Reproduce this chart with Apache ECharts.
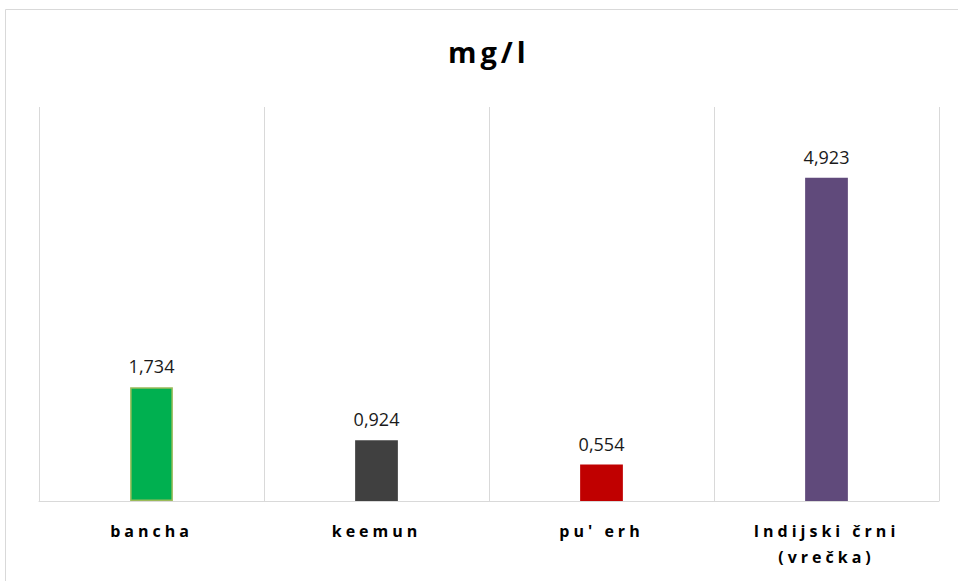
<!DOCTYPE html>
<html>
<head>
<meta charset="utf-8">
<script src="https://cdn.jsdelivr.net/npm/echarts@6/dist/echarts.min.js"></script>
<style>
  html, body { margin: 0; padding: 0; background: #fff; }
  #chart { width: 958px; height: 581px; }
  /* spaced lettering like the original for the bold texts */
  #chart text[style*="bold"] { letter-spacing: 4px; }
</style>
</head>
<body>
<div id="chart"></div>
<script>
// values
var categories = ["bancha", "keemun", "pu' erh", "Indijski črni\n(vrečka)"];
var values = [1.734, 0.924, 0.554, 4.923];
var barColors = ["#00b050", "#404040", "#c00000", "#604a7b"];
var barBorders = ["#9bbb59", "#404040", "#c00000", "#604a7b"];

var chart = echarts.init(document.getElementById("chart"), null, { renderer: "svg" });

var barData = [];
for (var i = 0; i < values.length; i++) {
  barData.push({
    value: values[i],
    itemStyle: { color: barColors[i], borderColor: barBorders[i], borderWidth: i == 0 ? 1.5 : 0 }
  });
}

var option = {
  animation: false,
  backgroundColor: "#fff",
  title: {
    text: "mg/l",
    left: 443,
    top: 32,
    textStyle: {
      fontFamily: "Open Sans",
      fontSize: 29,
      fontWeight: "bold",
      color: "#000"
    }
  },
  graphic: [
    {
      type: "rect",
      shape: { x: 5.5, y: 9.5, width: 960, height: 600 },
      style: { fill: "none", stroke: "#d9d9d9", lineWidth: 1 },
      silent: true
    }
  ],
  grid: { left: 39, right: 19, top: 107, bottom: 80 },
  xAxis: {
    type: "category",
    data: categories,
    axisTick: { show: false },
    axisLine: { lineStyle: { color: "#d9d9d9", width: 1 } },
    splitLine: { show: true, lineStyle: { color: "#d9d9d9", width: 1 } },
    axisLabel: {
      margin: 17,
      color: "#000",
      fontFamily: "Open Sans",
      fontSize: 16,
      fontWeight: "bold",
      lineHeight: 26
    }
  },
  yAxis: {
    type: "value",
    min: 0,
    max: 6,
    show: false,
    splitLine: { show: false }
  },
  series: [
    {
      type: "bar",
      barWidth: "19%",
      data: barData,
      label: {
        show: true,
        position: "top",
        distance: 12,
        color: "#1a1a1a",
        fontFamily: "Open Sans",
        fontSize: 18,
        formatter: function (p) {
          return p.value.toFixed(3).replace(".", ",");
        }
      }
    }
  ]
};
chart.setOption(option);
</script>
</body>
</html>
